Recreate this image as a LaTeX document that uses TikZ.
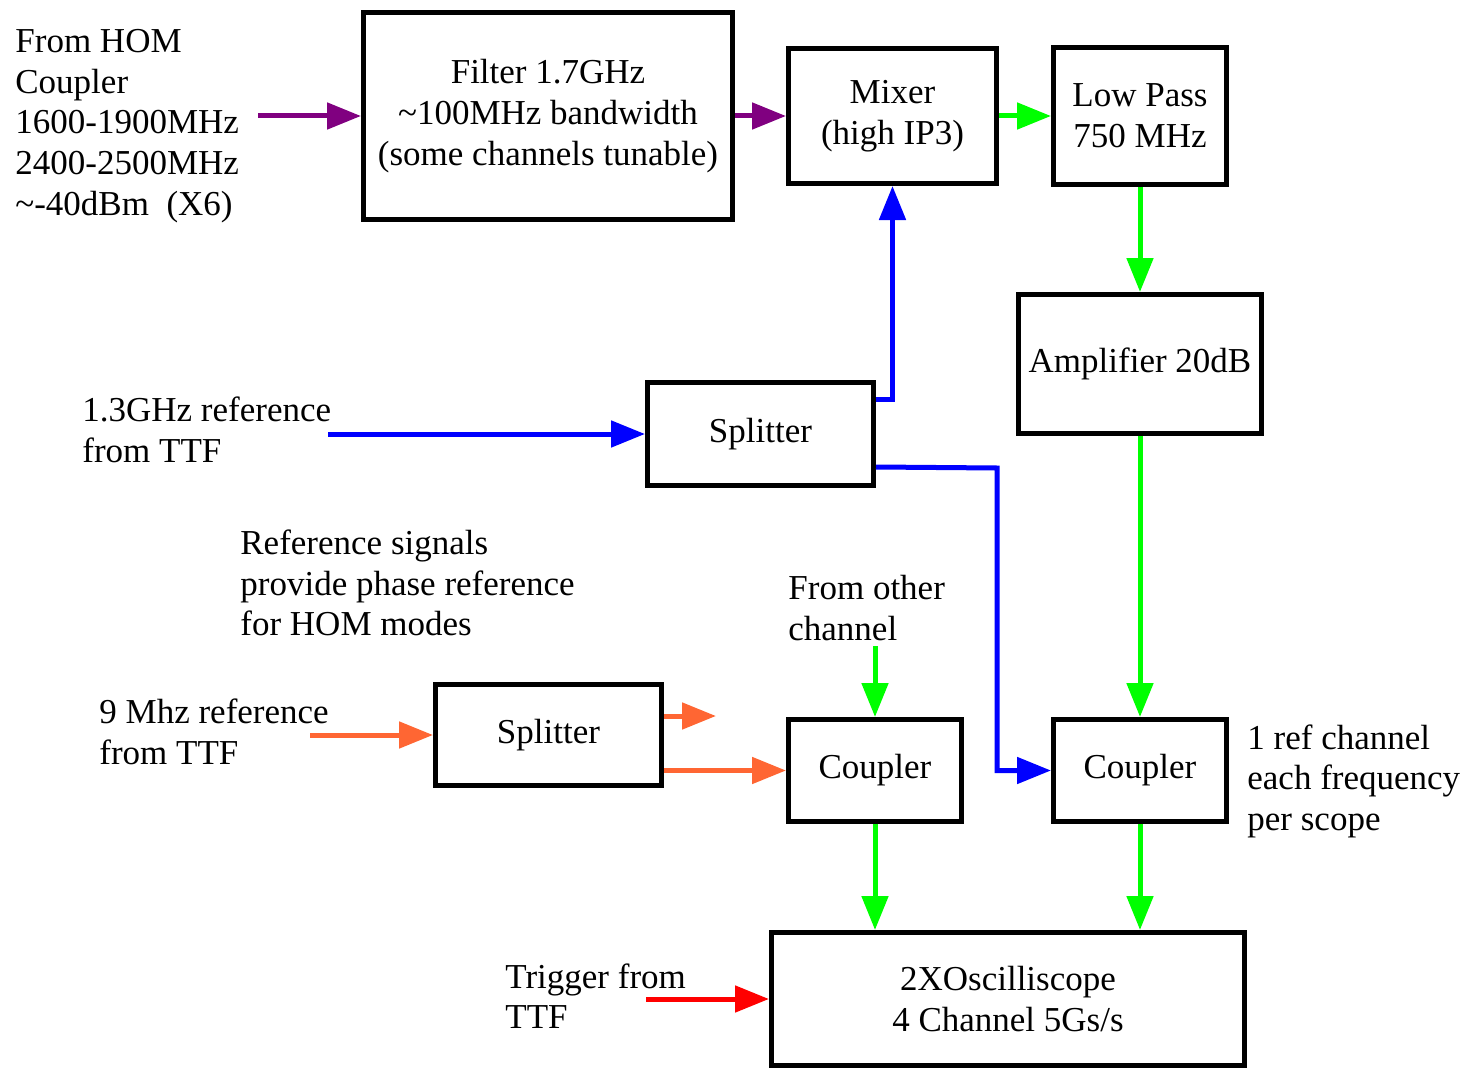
\documentclass[tikz,border=0pt]{standalone}
\usepackage{fontspec}
\setmainfont{Liberation Serif}
\usetikzlibrary{arrows.meta}
\definecolor{hom}{HTML}{800080}
\definecolor{sig}{HTML}{00FF00}
\definecolor{ref}{HTML}{0000FF}
\definecolor{clk}{HTML}{FF6633}
\definecolor{trig}{HTML}{FF0000}
\newcommand{\txt}{\fontsize{17.5}{20.3}\selectfont}
\tikzset{
  blk/.style={draw, line width=2.5pt, align=center, inner sep=0pt, font=\txt},
  note/.style={align=left, inner sep=0pt, anchor=west, font=\txt},
  flow/.style={line width=2.5pt, -{Triangle[length=17pt, width=13pt]}},
}

\begin{document}
\begin{tikzpicture}[x=0.5pt, y=-0.5pt]
    \useasboundingbox (0,0) rectangle (1473,1070);
    % blocks
    \node[blk, minimum width=184.5pt, minimum height=103.5pt] (flt) at (548,116) {Filter 1.7GHz\\\textasciitilde100MHz bandwidth\\(some channels tunable)};
    \node[blk, minimum width=104pt, minimum height=67.5pt] (mx) at (892.5,116) {Mixer\\(high IP3)};
    \node[blk, minimum width=86.5pt, minimum height=68.5pt] (lp) at (1140,116) {Low Pass\\750 MHz};
    \node[blk, minimum width=121.5pt, minimum height=69.5pt] (amp) at (1140,364) {Amplifier 20dB};
    \node[blk, minimum width=113pt, minimum height=51.5pt] (s1) at (760.5,434) {Splitter};
    \node[blk, minimum width=113pt, minimum height=50.5pt] (s2) at (548.5,735) {Splitter};
    \node[blk, minimum width=86.5pt, minimum height=51pt] (c1) at (875,770.5) {Coupler};
    \node[blk, minimum width=86.5pt, minimum height=51pt] (c2) at (1140,770.5) {Coupler};
    \node[blk, minimum width=236.5pt, minimum height=66.5pt] (sc) at (1008,999) {2XOscilliscope\\4 Channel 5Gs/s};
    % notes
    \node[note] (homin) at (15,126) {From HOM\\Coupler\\1600-1900MHz\\2400-2500MHz\\\textasciitilde-40dBm\ \ (X6)};
    \node[note] (r13) at (82,430) {1.3GHz reference\\from TTF};
    \node[note] (refnote) at (240,583) {Reference signals\\provide phase reference\\for HOM modes};
    \node[note] (other) at (788,608) {From other\\channel};
    \node[note] (r9) at (99,732) {9 Mhz reference\\from TTF};
    \node[note] (perscope) at (1247,781) {1 ref channel\\each frequency\\per scope};
    \node[note] (trg) at (505,996) {Trigger from\\TTF};
    % free ends
    \coordinate (homsrc) at (258,116);
    \coordinate (r13src) at (328,434);
    \coordinate (r9src) at (310,735);
    \coordinate (ocsrc) at (875,646);
    \coordinate (trgsrc) at (646,999);
    \coordinate (o1) at (716,716);
    \coordinate (b1) at (997,468);
    % connectors
    \draw[flow, hom] (homsrc) -- (flt.west);
    \draw[flow, hom] (flt.east) -- (mx.west);
    \foreach \x/\y in {mx/lp, lp/amp, amp/c2} \draw[flow, sig] (\x) -- (\y);
    \draw[flow, sig] (ocsrc) -- (c1.north);
    \foreach \x in {c1,c2} \draw[flow, sig] (\x.south) -- (\x.south |- sc.north);
    \draw[flow, ref] (r13src) -- (s1.west);
    \draw[flow, ref] ([yshift=17.5pt]s1.east) -| (mx.south);
    \draw[flow, ref] ([yshift=-16.5pt]s1.east) -- (b1) |- (c2.west);
    \draw[flow, clk] (r9src) -- (s2.west);
    \draw[flow, clk] ([yshift=9.5pt]s2.east) -- (o1);
    \draw[flow, clk] ([yshift=-17.75pt]s2.east) -- (c1.west);
    \draw[flow, trig] (trgsrc) -- (sc.west);
\end{tikzpicture}
\end{document}
